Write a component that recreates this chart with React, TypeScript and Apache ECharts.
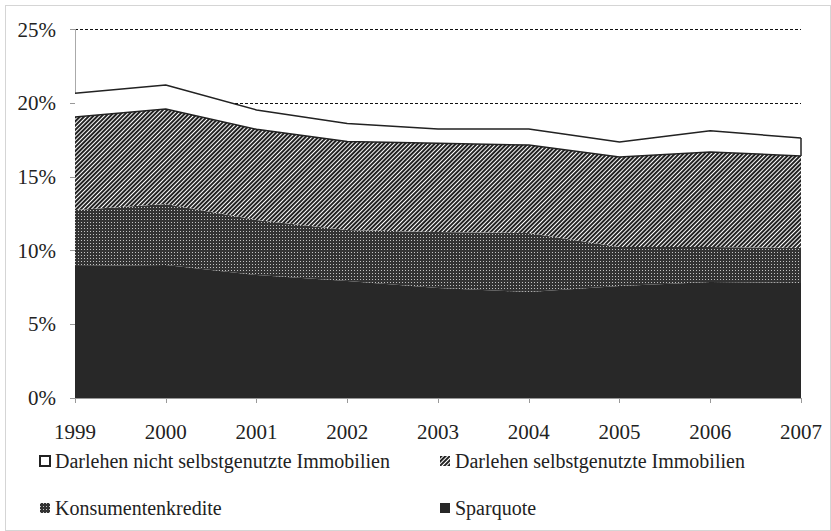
import React, { useEffect, useRef } from "react";
import * as echarts from "echarts";

const years = ["1999", "2000", "2001", "2002", "2003", "2004", "2005", "2006", "2007"];
const sparquote = [8.96, 9.02, 8.34, 7.94, 7.46, 7.19, 7.6, 7.87, 7.8];
const konsumentenkredite = [3.79, 4.14, 3.74, 3.46, 3.8, 4.0, 2.64, 2.37, 2.38];
const darlehenSelbst = [6.31, 6.44, 6.15, 6.0, 6.02, 5.97, 6.11, 6.45, 6.24];
const darlehenNicht = [1.61, 1.63, 1.31, 1.23, 0.97, 1.09, 1.02, 1.44, 1.22];

const nameNicht = "Darlehen nicht selbstgenutzte Immobilien";
const nameSelbst = "Darlehen selbstgenutzte Immobilien";
const nameKonsum = "Konsumentenkredite";
const nameSpar = "Sparquote";

const FONT = "'Liberation Serif', 'Times New Roman', serif";

export default function App() {
  const ref = useRef<HTMLDivElement>(null);
  useEffect(() => {
    if (!ref.current) return;
    const chart = echarts.init(ref.current, null, { renderer: "svg" });
    const last = years.length - 1;
    const belowNicht = sparquote[last] + konsumentenkredite[last] + darlehenSelbst[last];
    const total = belowNicht + darlehenNicht[last];
    chart.setOption({
      animation: false,
      backgroundColor: "#ffffff",
      textStyle: { fontFamily: FONT },
      grid: { left: 75, right: 30, top: 29.5, bottom: 133 },
      xAxis: {
        type: "category",
        data: years,
        boundaryGap: false,
        axisLine: { lineStyle: { color: "#999", width: 1 } },
        axisTick: { show: true, length: 5, alignWithLabel: true, lineStyle: { color: "#999" } },
        axisLabel: { fontFamily: FONT, fontSize: 21, color: "#222", margin: 23 },
        splitLine: { show: false },
      },
      yAxis: {
        type: "value",
        min: 0,
        max: 25,
        interval: 5,
        axisLine: { show: true, lineStyle: { color: "#aaa", width: 1 } },
        axisTick: { show: true, length: 5, lineStyle: { color: "#999" } },
        axisLabel: {
          fontFamily: FONT,
          fontSize: 21,
          color: "#222",
          margin: 19,
          formatter: (v: number) => `${v}%`,
        },
        splitLine: { show: true, lineStyle: { color: "#111", width: 1, type: [3, 2] } },
      },
      legend: [
        {
          left: 39,
          top: 451,
          padding: 0,
          orient: "vertical",
          itemWidth: 10,
          itemHeight: 10,
          itemGap: 27,
          textStyle: { fontFamily: FONT, fontSize: 20, color: "#222" },
          data: [nameNicht, nameKonsum],
          icon: "rect",
        },
        {
          left: 440,
          top: 451,
          padding: 0,
          orient: "vertical",
          itemWidth: 10,
          itemHeight: 10,
          itemGap: 27,
          textStyle: { fontFamily: FONT, fontSize: 20, color: "#222" },
          data: [nameSelbst, nameSpar],
          icon: "rect",
        },
      ],
      graphic: [
        {
          type: "rect",
          left: 3,
          top: 3,
          shape: { width: 825, height: 525 },
          style: { fill: "none", stroke: "#aaa", lineWidth: 1, lineDash: [1, 1] },
          silent: true,
        },
      ],
      series: [
        {
          name: nameSpar,
          type: "line",
          stack: "total",
          data: sparquote,
          showSymbol: false,
          lineStyle: { width: 0, color: "#282828" },
          itemStyle: { color: "#282828" },
          areaStyle: { color: "#282828", opacity: 1 },
        },
        {
          name: nameKonsum,
          type: "line",
          stack: "total",
          data: konsumentenkredite,
          showSymbol: false,
          lineStyle: { width: 0, color: "#333333" },
          itemStyle: {
            color: "#333333",
            decal: {
              symbol: "rect",
              symbolSize: 1,
              dashArrayX: [1, 2],
              dashArrayY: [1, 2],
              color: "#c4c4c4",
            },
          },
          areaStyle: { color: "#333333", opacity: 1 },
        },
        {
          name: nameSelbst,
          type: "line",
          stack: "total",
          data: darlehenSelbst,
          showSymbol: false,
          lineStyle: { width: 1.5, color: "#222" },
          itemStyle: {
            color: "#ffffff",
            borderColor: "#222",
            decal: {
              symbol: "rect",
              symbolSize: 1,
              dashArrayX: [1, 0],
              dashArrayY: [1.1, 1],
              rotation: -Math.PI / 4,
              color: "#222",
            },
          },
          areaStyle: { color: "#ffffff", opacity: 1 },
        },
        {
          name: nameNicht,
          type: "line",
          stack: "total",
          data: darlehenNicht,
          showSymbol: false,
          lineStyle: { width: 1.5, color: "#222" },
          itemStyle: { color: "#ffffff", borderColor: "#222", borderWidth: 1 },
          areaStyle: { color: "#ffffff", opacity: 1 },
          markLine: {
            silent: true,
            symbol: "none",
            label: { show: false },
            lineStyle: { color: "#222", width: 1.5, type: "solid" },
            data: [
              [
                { coord: [years[last], belowNicht] },
                { coord: [years[last], total] },
              ],
            ],
          },
        },
      ],
    });
    return () => chart.dispose();
  }, []);
  return (
    <div
      ref={ref}
      style={{ position: "fixed", left: 0, top: 0, width: 831, height: 531, background: "#fff" }}
    />
  );
}
